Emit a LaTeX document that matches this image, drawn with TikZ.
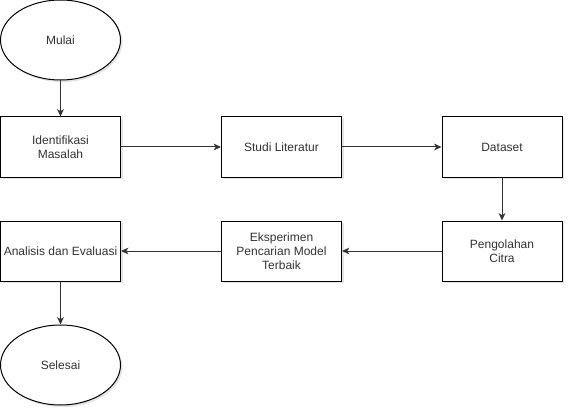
\documentclass[tikz,border=0pt]{standalone}
\usepackage{fontspec}
\setmainfont{Liberation Sans}
\usetikzlibrary{arrows.meta,shadows,shapes.geometric}
\begin{document}
\begin{tikzpicture}[x=0.75pt,y=-0.75pt,
  every node/.style={font=\fontsize{9pt}{10.5pt}\selectfont, text=black!80},
  sh/.style={drop shadow={shadow xshift=1.5pt,shadow yshift=-1.5pt,fill=gray!35,opacity=0.6}},
  procbox/.style={draw=black, line width=0.75pt, fill=white, minimum width=90pt, minimum height=45pt, align=center, inner sep=1pt, sh},
  termbox/.style={ellipse, draw=black, line width=0.75pt, fill=white, minimum width=90pt, minimum height=60pt, inner sep=0pt, sh},
  conn/.style={draw=black!80, line width=0.75pt, -{Stealth[length=5.5pt,width=5pt,inset=1.5pt]}}
]
\useasboundingbox (0,0) rectangle (574,417);
\node[termbox] (mulai) at (60.5,40) {Mulai};
\node[procbox] (ident) at (60.5,147) {Identifikasi\\Masalah};
\node[procbox] (studi) at (281.5,147) {Studi Literatur};
\node[procbox] (data) at (502,147) {Dataset};
\node[procbox] (olah) at (502,251) {Pengolahan\\Citra};
\node[procbox] (eksp) at (281.5,251) {Eksperimen\\Pencarian Model\\Terbaik};
\node[procbox] (anal) at (60.5,251) {Analisis dan Evaluasi};
\node[termbox] (selesai) at (60.5,365) {Selesai};
\draw[conn] (mulai) -- (ident);
\draw[conn] (ident) -- (studi);
\draw[conn] (studi) -- (data);
\draw[conn] (data) -- (olah);
\draw[conn] (olah) -- (eksp);
\draw[conn] (eksp) -- (anal);
\draw[conn] (anal) -- (selesai);
\end{tikzpicture}
\end{document}
